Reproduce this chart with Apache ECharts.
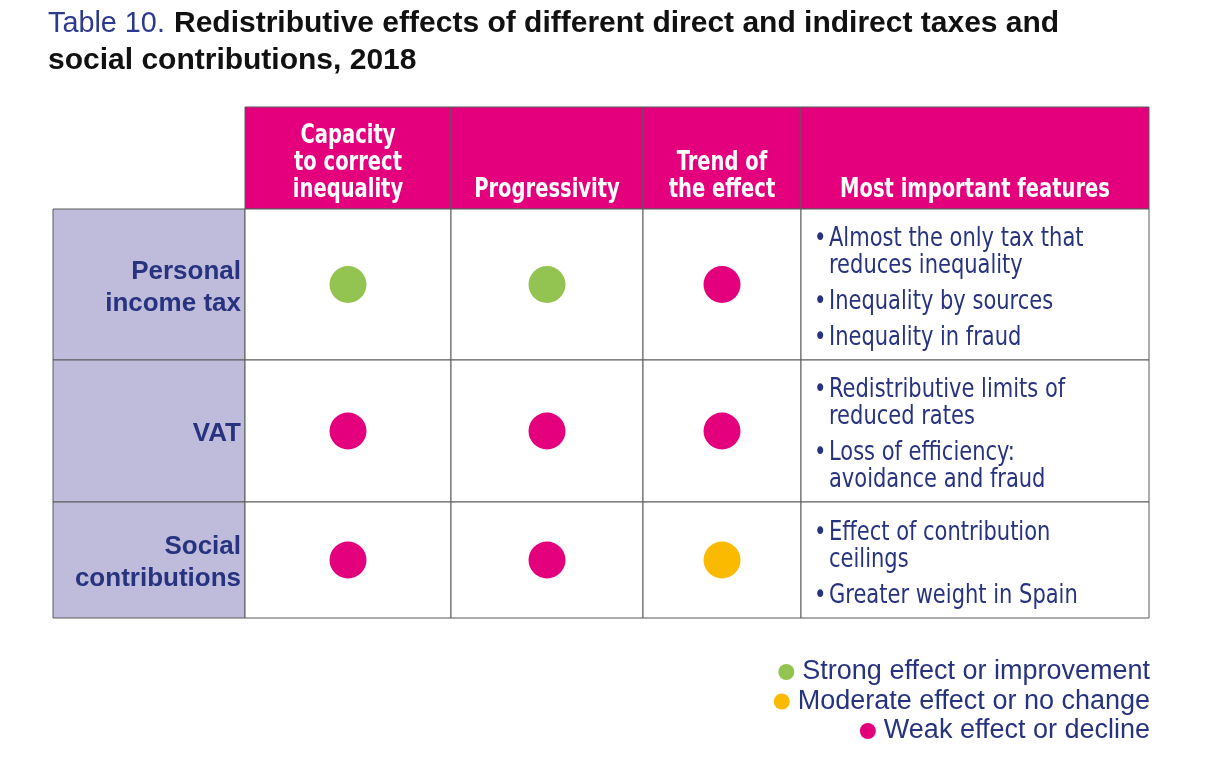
<!DOCTYPE html>
<html>
<head>
<meta charset="UTF-8">
<title>Table 10. Redistributive effects</title>
<script src="https://cdn.jsdelivr.net/npm/echarts@6/dist/echarts.min.js"></script>
<style>html,body{margin:0;padding:0;background:#fff;}</style>
</head>
<body>
<div id="main" style="width:1217px;height:766px;"></div>
<script>
// table content
var titleLabel = 'Table 10.';
var titleLines = ['Redistributive effects of different direct and indirect taxes and', 'social contributions, 2018'];
var columns = ['Capacity\nto correct\ninequality', 'Progressivity', 'Trend of\nthe effect', 'Most important features'];
var taxes = ['Personal\nincome tax', 'VAT', 'Social\ncontributions'];
var levels = ['Strong effect or improvement', 'Moderate effect or no change', 'Weak effect or decline'];
// rating of each tax, one array per column (0 strong, 1 moderate, 2 weak)
var capacity = [0, 2, 2];
var progressivity = [0, 2, 2];
var trend = [2, 2, 1];
var features = [
    [['Almost the only tax that', 'reduces inequality'], ['Inequality by sources'], ['Inequality in fraud']],
    [['Redistributive limits of', 'reduced rates'], ['Loss of efficiency:', 'avoidance and fraud']],
    [['Effect of contribution', 'ceilings'], ['Greater weight in Spain']]
];

// layout
var colEdges = [53, 245, 451, 643, 801, 1149];
var rowEdges = [107, 209, 360, 502, 618];
var levelColors = ['#93c452', '#fbba00', '#e4007c'];
var navy = '#27337f';
var magenta = '#e4007c';
var cond = '"DejaVu Sans Condensed", sans-serif';
var sans = '"Liberation Sans", Arial, sans-serif';

var myChart = echarts.init(document.getElementById('main'));

var ratings = [capacity, progressivity, trend];
var graphics = [];

// title (scaleX works around the element's own x, y)
graphics.push({
    type: 'text', x: 48, y: 5, scaleX: 0.96,
    style: {text: titleLabel, fill: '#2b3990', font: '30px ' + sans, verticalAlign: 'top', lineHeight: 37}
});
graphics.push({
    type: 'text', x: 174, y: 5,
    style: {text: titleLines[0], fill: '#111', font: 'bold 30px ' + sans, verticalAlign: 'top', lineHeight: 37}
});
graphics.push({
    type: 'text', x: 48, y: 42,
    style: {text: titleLines[1], fill: '#111', font: 'bold 30px ' + sans, verticalAlign: 'top', lineHeight: 37}
});

// header cells
columns.forEach(function (name, c) {
    var x0 = colEdges[c + 1], x1 = colEdges[c + 2];
    graphics.push({
        type: 'rect',
        shape: {x: x0, y: rowEdges[0], width: x1 - x0, height: rowEdges[1] - rowEdges[0]},
        style: {fill: magenta, stroke: '#5a5a5c', lineWidth: 1}
    });
    graphics.push({
        type: 'text',
        x: (x0 + x1) / 2, y: 204, scaleX: 0.835,
        style: {
            text: name, fill: '#fff', font: 'bold 26px ' + cond,
            align: 'center', verticalAlign: 'bottom', lineHeight: 27
        }
    });
});

// body rows
taxes.forEach(function (tax, r) {
    var y0 = rowEdges[r + 1], y1 = rowEdges[r + 2];
    var cy = (y0 + y1) / 2;
    graphics.push({
        type: 'rect',
        shape: {x: colEdges[0], y: y0, width: colEdges[1] - colEdges[0], height: y1 - y0},
        style: {fill: '#bebbdb', stroke: '#5a5a5c', lineWidth: 1}
    });
    graphics.push({
        type: 'text',
        x: colEdges[1] - 4,
        y: cy + 3,
        style: {
            text: tax, fill: navy, font: 'bold 26px ' + sans,
            align: 'right', verticalAlign: 'middle', lineHeight: 32
        }
    });
    for (var c = 1; c < colEdges.length - 1; c++) {
        graphics.push({
            type: 'rect',
            shape: {x: colEdges[c], y: y0, width: colEdges[c + 1] - colEdges[c], height: y1 - y0},
            style: {fill: '#fff', stroke: '#5a5a5c', lineWidth: 1}
        });
    }
    // bullet list of features, centred in the row
    var items = features[r];
    var nLines = 0;
    items.forEach(function (it) { nLines += it.length; });
    var span = (nLines - 1) * 27 + (items.length - 1) * 9;
    var lineY = cy - span / 2 + 4;
    items.forEach(function (it) {
        graphics.push({
            type: 'text', x: 814, y: lineY - 13.5, scaleX: 0.865,
            style: {text: '\u2022', fill: navy, font: '27px ' + cond, align: 'left', verticalAlign: 'top', lineHeight: 27}
        });
        graphics.push({
            type: 'text', x: 829, y: lineY - 13.5, scaleX: 0.865,
            style: {text: it.join('\n'), fill: navy, font: '27px ' + cond, align: 'left', verticalAlign: 'top', lineHeight: 27}
        });
        lineY += it.length * 27 + 9;
    });
});

function renderDot(params, api) {
    var c = api.value(0), r = api.value(1);
    return {
        type: 'circle',
        shape: {
            cx: (colEdges[c + 1] + colEdges[c + 2]) / 2,
            cy: (rowEdges[r + 1] + rowEdges[r + 2]) / 2,
            r: 18.5
        },
        style: {fill: api.visual('color')}
    };
}

var series = levels.map(function (lvl, k) {
    var data = [];
    ratings.forEach(function (col, c) {
        col.forEach(function (v, r) {
            if (v === k) data.push([c, r]);
        });
    });
    return {
        name: lvl,
        type: 'custom',
        coordinateSystem: 'none',
        renderItem: renderDot,
        itemStyle: {color: levelColors[k]},
        silent: true,
        z: 5,
        data: data
    };
});

var legends = levels.map(function (lvl, k) {
    return {
        data: [{name: lvl, icon: 'circle'}],
        right: 67,
        top: 658 + k * 29.5,
        padding: 0,
        itemWidth: 16,
        itemHeight: 16,
        itemGap: 0,
        selectedMode: false,
        textStyle: {color: navy, fontSize: 27, lineHeight: 28, fontFamily: sans, padding: [0, 0, 0, 3]}
    };
});

var option = {
    backgroundColor: '#fff',
    animation: false,
    legend: legends,
    graphic: graphics,
    series: series
};
myChart.setOption(option);
</script>
</body>
</html>
